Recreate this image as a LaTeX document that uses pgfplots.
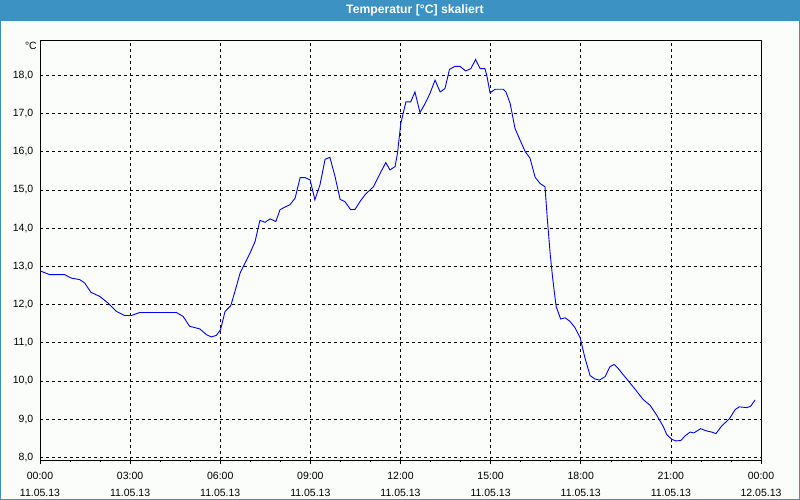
\documentclass[border=0pt]{standalone}
\usepackage{fontspec}
\setmainfont{Liberation Sans}
\usepackage{pgfplots}
\pgfplotsset{compat=1.18}
\definecolor{bgc}{RGB}{251,253,251}
\definecolor{titleblue}{RGB}{61,146,196}
\begin{document}
\begin{tikzpicture}
\useasboundingbox (0pt,0pt) rectangle (800pt,500pt);
\fill[bgc] (0pt,0pt) rectangle (800pt,500pt);
\fill[titleblue] (0pt,479pt) rectangle (800pt,500pt);
\draw[titleblue, line width=2pt] (0pt,0pt) rectangle (800pt,500pt);
\node[text=white, font=\fontsize{12.2}{14}\selectfont\bfseries] at (415pt,489.5pt) {Temperatur [°C] skaliert};
\node[anchor=east, inner sep=0pt, font=\fontsize{10.5}{12}\selectfont] at (37pt,454pt) {°C};
\begin{axis}[
  at={(40pt,40pt)}, anchor=south west,
  scale only axis, width=721pt, height=420pt,
  xmin=0, xmax=24, ymin=7.93, ymax=18.92,
  axis line style={black, line width=0.8pt},
  xtick={0,3,6,9,12,15,18,21,24},
  minor xtick={1,2,4,5,7,8,10,11,13,14,16,17,19,20,22,23},
  xticklabels={{00:00\\11.05.13},{03:00\\11.05.13},{06:00\\11.05.13},{09:00\\11.05.13},{12:00\\11.05.13},{15:00\\11.05.13},{18:00\\11.05.13},{21:00\\11.05.13},{00:00\\12.05.13}},
  xticklabel style={align=center, font=\fontsize{10.5}{17}\selectfont, inner sep=0pt, yshift=-8pt},
  ytick={8,9,10,11,12,13,14,15,16,17,18},
  yticklabels={{8,0},{9,0},{10,0},{11,0},{12,0},{13,0},{14,0},{15,0},{16,0},{17,0},{18,0}},
  yticklabel style={anchor=east, inner sep=0pt, xshift=-2.5pt, font=\fontsize{10.5}{12}\selectfont},
  tick align=outside,
  xtick pos=bottom, ytick pos=left,
  major tick length=4pt, minor tick length=2.5pt,
  every tick/.style={black, line width=0.6pt},
  ytick style={draw=none},
  xmajorgrids, ymajorgrids,
  major grid style={black, line width=0.6pt, dash pattern=on 3pt off 3pt},
  clip=true,
]
\addplot[blue, line width=0.9pt, sharp plot] coordinates {
(0.00,12.88)(0.32,12.78)(0.82,12.78)(1.04,12.69)(1.32,12.65)(1.49,12.56)(1.69,12.32)(1.99,12.21)
(2.26,12.04)(2.54,11.82)(2.82,11.71)(3.04,11.71)(3.32,11.79)(4.54,11.79)(4.76,11.69)(4.98,11.43)
(5.32,11.36)(5.54,11.21)(5.70,11.15)(5.87,11.19)(6.01,11.34)(6.16,11.82)(6.35,11.97)(6.49,12.34)
(6.66,12.82)(6.77,13.00)(6.99,13.34)(7.16,13.65)(7.32,14.20)(7.49,14.15)(7.66,14.24)(7.85,14.17)
(7.99,14.48)(8.16,14.55)(8.32,14.61)(8.49,14.78)(8.66,15.32)(8.82,15.32)(8.99,15.26)(9.15,14.74)
(9.32,15.13)(9.49,15.80)(9.65,15.85)(9.82,15.35)(9.99,14.75)(10.15,14.69)(10.34,14.48)(10.49,14.49)
(10.65,14.69)(10.84,14.89)(11.10,15.08)(11.32,15.43)(11.51,15.71)(11.65,15.52)(11.82,15.61)(11.90,15.96)
(12.01,16.74)(12.18,17.30)(12.34,17.30)(12.48,17.56)(12.65,17.02)(12.82,17.26)(12.98,17.52)(13.15,17.87)
(13.32,17.56)(13.48,17.65)(13.63,18.15)(13.81,18.23)(13.98,18.23)(14.17,18.11)(14.34,18.17)(14.50,18.41)
(14.65,18.17)(14.81,18.17)(14.87,18.00)(14.98,17.54)(15.15,17.63)(15.42,17.63)(15.51,17.56)(15.65,17.26)
(15.81,16.61)(15.98,16.30)(16.15,16.00)(16.31,15.83)(16.48,15.33)(16.64,15.17)(16.81,15.08)(16.89,14.21)
(16.98,13.34)(17.07,12.65)(17.18,11.95)(17.33,11.62)(17.48,11.65)(17.64,11.56)(17.81,11.39)(17.98,11.13)
(18.14,10.60)(18.31,10.14)(18.47,10.05)(18.62,10.02)(18.81,10.11)(18.97,10.37)(19.11,10.43)(19.25,10.32)
(19.53,10.05)(19.81,9.78)(20.08,9.51)(20.31,9.36)(20.53,9.10)(20.75,8.80)(20.86,8.60)(21.03,8.47)
(21.17,8.43)(21.33,8.44)(21.47,8.56)(21.64,8.66)(21.77,8.64)(21.99,8.75)(22.19,8.69)(22.36,8.66)
(22.50,8.62)(22.69,8.82)(22.95,9.01)(23.14,9.25)(23.28,9.32)(23.53,9.30)(23.66,9.34)(23.80,9.50)
};
\end{axis}
\end{tikzpicture}
\end{document}
